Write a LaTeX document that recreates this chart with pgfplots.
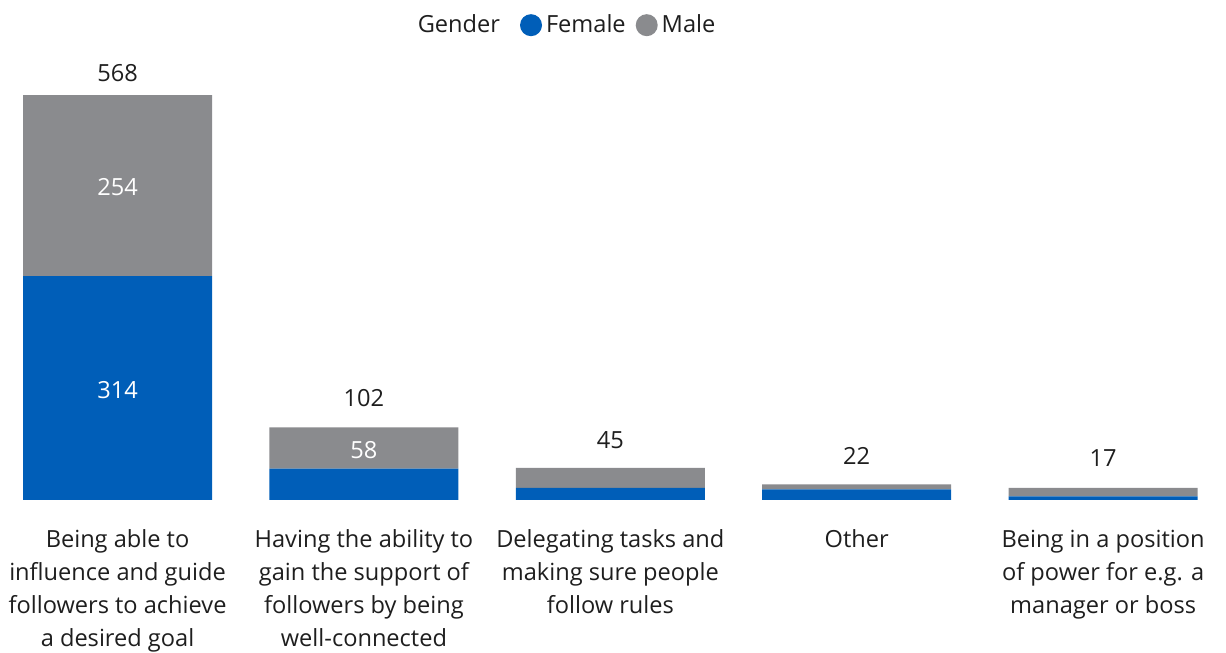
\documentclass[border=0pt]{standalone}
\usepackage{pgfplots}
\usepackage{pgfplotstable}
\pgfplotsset{compat=1.18}
\usepackage{fontspec}
\setmainfont{Open Sans}
\definecolor{fem}{RGB}{0,94,184}
\definecolor{mal}{RGB}{138,139,142}
\definecolor{txt}{RGB}{30,30,30}
\pgfplotstableread{
x female male total
0 314 254 568
1 44 58 102
2 17 28 45
3 15 7 22
4 5 12 17
}\bars
\pgfplotstableread{
x y label
0 599 568
1 143 102
2 84 45
3 62 22
4 59 17
}\totals
\pgfplotstableread{
x y label
0 154 314
0 439 254
1 70 58
}\inner
\pgfplotsset{
  base/.style={
    x=123.2pt, y=0.3565pt,
    xmin=-0.477, xmax=4.5, ymin=0, ymax=701,
    at={(0pt,76.5pt)}, anchor=south west,
    clip=false,
    axis line style={draw=none},
    tick style={draw=none},
    ytick=\empty,
    font=\fontsize{11.8}{16.5}\selectfont,
  }
}
\begin{document}
\begin{tikzpicture}
\useasboundingbox (0,0) rectangle (613pt,326.5pt);
\begin{axis}[base,
  ybar stacked, bar width=94.5pt,
  xtick={0,1,2,3,4},
  xticklabels={
    {Being able to\\influence and guide\\followers to achieve\\a desired goal},
    {Having the ability to\\gain the support of\\followers by being\\well-connected},
    {Delegating tasks and\\making sure people\\follow rules},
    {Other},
    {Being in a position\\of power for e.g. a\\manager or boss}},
  xticklabel style={align=center, text=txt, anchor=north, yshift=-11.5pt},
  legend style={at={(0.462,1)}, yshift=-12.5pt, anchor=center, draw=none, fill=none,
    legend columns=-1, font=\fontsize{11.8}{14}\selectfont, text=txt,
    /tikz/every even column/.append style={column sep=3pt},
    /tikz/every odd column/.append style={column sep=0pt},
    legend cell align=left},
]
\addlegendimage{empty legend}
\addlegendentry{Gender\kern5pt}
\addplot[fill=fem, draw=none, legend image code/.code={\fill[fem] (0pt,0pt) circle (5.5pt);}] table[x=x,y=female] {\bars};
\addlegendentry{Female}
\addplot[fill=mal, draw=none, legend image code/.code={\fill[mal] (0pt,0pt) circle (5.5pt);}] table[x=x,y=male] {\bars};
\addlegendentry{Male}
\end{axis}
\begin{axis}[base, hide axis]
\addplot[draw=none, nodes near coords, point meta=explicit symbolic,
  every node near coord/.append style={anchor=center, text=txt, font=\fontsize{11.8}{14}\selectfont}]
  table[x=x,y=y,meta=label] {\totals};
\addplot[draw=none, nodes near coords, point meta=explicit symbolic,
  every node near coord/.append style={anchor=center, text=white, font=\fontsize{11.8}{14}\selectfont}]
  table[x=x,y=y,meta=label] {\inner};
\end{axis}
\end{tikzpicture}
\end{document}
